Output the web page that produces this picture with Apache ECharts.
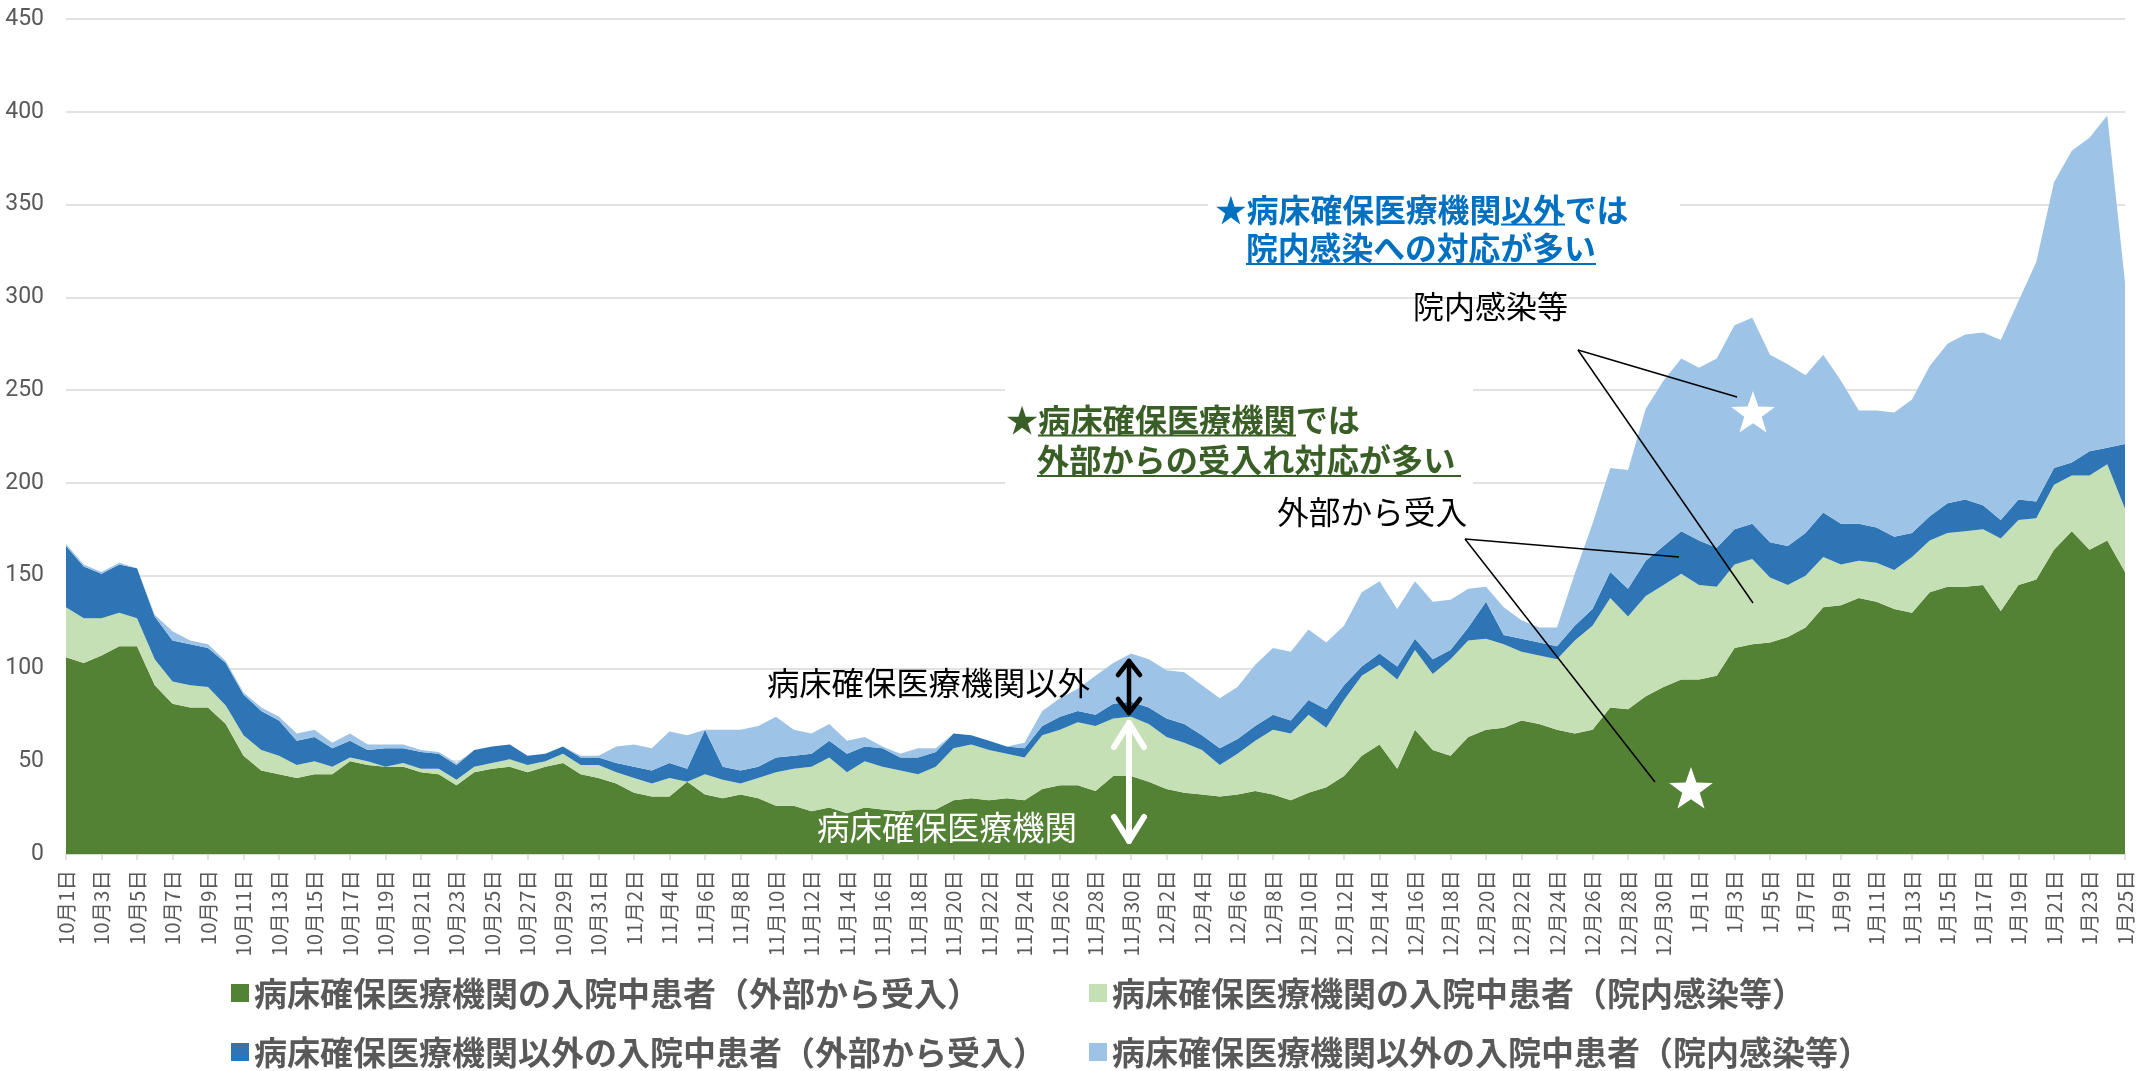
<!DOCTYPE html>
<html>
<head>
<meta charset="utf-8">
<script src="https://cdn.jsdelivr.net/npm/echarts@6/dist/echarts.min.js"></script>
<style>
  html, body { margin: 0; padding: 0; background: #fff; }
  #chart { width: 2152px; height: 1071px; }
</style>
</head>
<body>
<div id="chart"></div>
<script>
// 月ごとの日数（10月1日〜1月25日）
const months = [[10, 31], [11, 30], [12, 31], [1, 25]];
const dates = [];
months.forEach(([m, n]) => { for (let d = 1; d <= n; d++) dates.push(m + '月' + d + '日'); });

// 病床確保医療機関の入院中患者（外部から受入）
const kakuhoGaibu = [
  106,103,107,112,112,91,81,79,79,70,
  53,45,43,41,43,43,50,48,47,47,
  44,43,37,44,46,47,44,47,49,43,
  41,38,33,31,31,39,32,30,32,30,
  26,26,23,25,22,25,24,23,24,24,
  29,30,29,30,29,35,37,37,34,42,
  42,39,35,33,32,31,32,34,32,29,
  33,36,42,53,59,46,67,56,53,63,
  67,68,72,70,67,65,67,79,78,85,
  90,94,94,96,111,113,114,117,122,133,
  134,138,136,132,130,141,144,144,145,131,
  145,148,164,174,164,169,152
];
// 病床確保医療機関の入院中患者（院内感染等）
const kakuhoInnai = [
  27,24,20,18,15,14,12,12,11,10,
  11,11,10,7,7,4,2,2,0,2,
  2,3,3,3,3,4,4,3,5,5,
  7,6,8,7,10,0,11,10,6,11,
  18,20,24,27,22,25,23,22,19,23,
  28,29,27,24,23,29,30,34,35,31,
  32,31,28,27,24,17,22,27,35,36,
  42,32,41,43,43,48,43,41,52,52,
  49,45,37,37,38,50,56,59,50,54,
  55,57,51,48,45,46,35,28,28,27,
  22,20,21,21,30,28,29,30,30,39,
  35,33,35,30,40,41,34
];
// 病床確保医療機関以外の入院中患者（外部から受入）
const igaiGaibu = [
  33,28,24,26,27,23,22,22,21,23,
  22,21,19,13,13,10,9,6,10,8,
  9,8,8,9,9,8,5,4,4,4,
  4,5,6,7,8,7,24,7,7,6,
  8,7,7,9,10,8,10,7,9,8,
  8,5,5,4,5,5,7,6,6,8,
  8,9,10,10,8,9,8,8,8,7,
  8,10,8,5,6,7,6,8,5,7,
  20,5,7,7,7,8,9,14,15,19,
  21,23,24,21,19,19,19,21,23,24,
  22,20,19,18,13,13,16,17,13,10,
  11,9,9,7,13,9,35
];
// 病床確保医療機関以外の入院中患者（院内感染等）
const igaiInnai = [
  1,1,1,1,0,1,5,2,2,1,
  1,2,2,4,4,3,4,3,2,2,
  1,1,1,0,0,0,0,0,0,1,
  1,9,12,12,17,18,0,20,22,22,
  22,14,11,9,7,5,1,2,5,2,
  0,0,0,0,3,8,10,12,21,22,
  26,26,26,28,27,27,28,33,36,37,
  38,36,32,40,39,31,31,31,27,21,
  8,15,10,8,10,28,46,56,64,82,
  89,93,93,102,110,111,101,98,85,85,
  77,61,63,67,72,81,86,89,93,97,
  107,129,154,168,169,179,87
];

const seriesNames = [
  '病床確保医療機関の入院中患者（外部から受入）',
  '病床確保医療機関の入院中患者（院内感染等）',
  '病床確保医療機関以外の入院中患者（外部から受入）',
  '病床確保医療機関以外の入院中患者（院内感染等）'
];
const seriesData = [kakuhoGaibu, kakuhoInnai, igaiGaibu, igaiInnai];
const colors = ['#548235', '#C5E0B4', '#2E75B6', '#9DC3E6'];

const FONT = '"Noto Sans CJK JP", sans-serif';

// 注釈用の図形
function txt(text, x, y, size, color, weight) {
  return {
    type: 'text', z: 10, x: x, y: y,
    style: {
      text: text, fill: color, font: (weight || 'normal') + ' ' + size + 'px ' + FONT,
      textAlign: 'left', textVerticalAlign: 'middle', align: 'left', verticalAlign: 'middle'
    }
  };
}
function seg(x1, y1, x2, y2, color, w) {
  return { type: 'line', z: 10, shape: { x1, y1, x2, y2 }, style: { stroke: color, lineWidth: w } };
}
function arrow(x, y1, y2, color, w, hw, hh) {
  const st = { stroke: color, lineWidth: w, lineCap: 'round', lineJoin: 'round', fill: null };
  return [
    { type: 'line', z: 10, shape: { x1: x, y1: y1 + 2, x2: x, y2: y2 - 2 }, style: st },
    { type: 'polyline', z: 10, shape: { points: [[x - hw, y1 + hh], [x, y1 + 2], [x + hw, y1 + hh]] }, style: st },
    { type: 'polyline', z: 10, shape: { points: [[x - hw, y2 - hh], [x, y2 - 2], [x + hw, y2 - hh]] }, style: st }
  ];
}
function star(cx, cy, r) {
  const pts = [];
  for (let k = 0; k < 10; k++) {
    const rr = k % 2 ? r * 0.4 : r;
    const a = -Math.PI / 2 + k * Math.PI / 5;
    pts.push([cx + rr * Math.cos(a), cy + rr * Math.sin(a)]);
  }
  return { type: 'polygon', z: 10, shape: { points: pts }, style: { fill: '#fff' } };
}

const blue = '#0070C0';
const green = '#3A5F26';
const graphics = [
  { type: 'rect', z: 1, shape: { x: 1208, y: 182, width: 472, height: 98 }, style: { fill: '#fff' } },
  { type: 'rect', z: 1, shape: { x: 1005, y: 386, width: 468, height: 102 }, style: { fill: '#fff' } },

  txt('★病床確保医療機関以外では', 1215, 210, 31.8, blue, 'bold'),
  txt('院内感染への対応が多い', 1246, 248, 31.8, blue, 'bold'),
  seg(1501, 224.5, 1565, 224.5, blue, 2),
  seg(1246, 264, 1596, 264, blue, 2),

  txt('★病床確保医療機関では', 1006, 420, 32.2, green, 'bold'),
  txt('外部からの受入れ対応が多い', 1037, 460, 32.2, green, 'bold'),
  seg(1038, 435.5, 1296, 435.5, green, 2),
  seg(1037, 476, 1461, 476, green, 2),

  txt('院内感染等', 1413, 306, 31, '#000'),
  seg(1578, 350, 1737, 397, '#000', 1.5),
  seg(1578, 350, 1753, 603, '#000', 1.5),

  txt('外部から受入', 1277, 512, 31.7, '#000'),
  seg(1465, 539, 1679, 557, '#000', 1.5),
  seg(1465, 539, 1655, 782, '#000', 1.5),

  star(1753, 414, 23),
  star(1691, 790, 23),

  txt('病床確保医療機関以外', 767, 683, 32.3, '#000'),
  txt('病床確保医療機関', 817, 828, 32.5, '#fff')
].concat(arrow(1129, 659, 715, '#000', 4.5, 11, 16))
 .concat(arrow(1129, 721, 843, '#fff', 6, 15, 26));

// 凡例は 2 列 × 2 行で配置
const legendPos = [[226, 970], [1084, 970], [226, 1029], [1084, 1029]];
const legends = seriesNames.map((name, k) => ({
  left: legendPos[k][0],
  top: legendPos[k][1],
  data: [name],
  itemWidth: 18,
  itemHeight: 18,
  icon: 'rect',
  textStyle: {
    fontFamily: FONT, fontSize: 33, fontWeight: 'bold', color: '#595959',
    lineHeight: 36
  }
}));

const option = {
  animation: false,
  backgroundColor: '#fff',
  textStyle: { fontFamily: FONT },
  color: colors,
  grid: { left: 66, right: 27, top: 19, bottom: 217, containLabel: false, outerBoundsMode: 'none' },
  legend: legends,
  xAxis: {
    type: 'category',
    data: dates,
    boundaryGap: false,
    axisLine: { lineStyle: { color: '#d9d9d9', width: 2 } },
    axisTick: { show: true, interval: 1, length: 6, lineStyle: { color: '#d9d9d9', width: 1.5 } },
    axisLabel: { interval: 1, rotate: 90, fontSize: 20.5, color: '#595959', margin: 16, fontFamily: FONT }
  },
  yAxis: {
    type: 'value',
    min: 0, max: 450, interval: 50,
    axisLine: { show: false },
    axisTick: { show: false },
    axisLabel: { fontSize: 23, color: '#595959', margin: 22, fontFamily: 'Roboto, sans-serif' },
    splitLine: { lineStyle: { color: '#d9d9d9', width: 1.5 } }
  },
  series: seriesData.map((d, k) => ({
    name: seriesNames[k],
    type: 'line',
    stack: 'total',
    data: d,
    symbol: 'none',
    lineStyle: { width: 0 },
    areaStyle: { color: colors[k], opacity: 1 },
    itemStyle: { color: colors[k] },
    emphasis: { disabled: true }
  })),
  graphic: { elements: graphics }
};

const chart = echarts.init(document.getElementById('chart'));
chart.setOption(option);
</script>
</body>
</html>
